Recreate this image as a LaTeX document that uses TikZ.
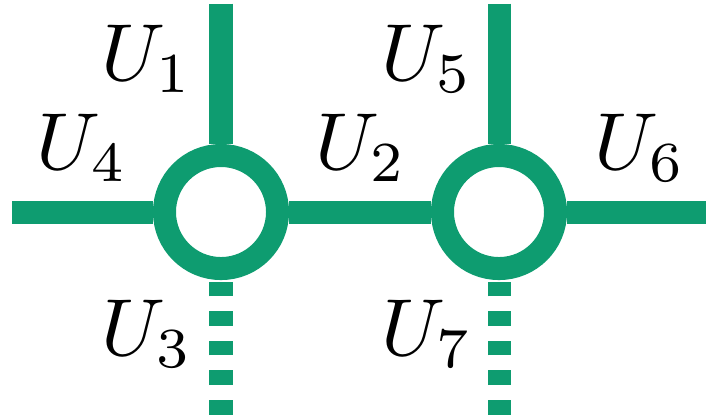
\documentclass[tikz,border=0pt]{standalone}
\usepackage{tikz}
\definecolor{netgreen}{RGB}{14,156,112}

\begin{document}
\begin{tikzpicture}[
	x=0.01cm, y=-0.01cm,
	line cap=butt,
	leg/.style={draw=netgreen, line width=0.23cm},
	openleg/.style={leg, dash pattern=on 0.145cm off 0.15cm},
	site/.style={circle, draw=netgreen, line width=0.23cm, minimum size=1.13cm, inner sep=0pt},
	lbl/.style={scale=2.3, inner sep=0pt, anchor=center}
	]
	\useasboundingbox (0,0) rectangle (706,417);
	
	\node[site] (s1) at (221,212) {};
	\node[site] (s2) at (499,212) {};
	
	\coordinate (top1) at (221,3.5);
	\coordinate (top2) at (499,3.5);
	\coordinate (left1) at (12,212);
	\coordinate (right2) at (706,212);
	\coordinate (bot1) at (221,414.5);
	\coordinate (bot2) at (499,414.5);
	
	\draw[leg] (top1) -- (s1);
	\draw[leg] (left1) -- (s1);
	\draw[leg] (s1) -- (s2);
	\draw[leg] (top2) -- (s2);
	\draw[leg] (s2) -- (right2);
	\draw[openleg] (bot1) -- (s1);
	\draw[openleg] (bot2) -- (s2);
	
	\node[lbl] (u1) at (147.5,58.5) {$U_1$};
	\node[lbl] (u4) at (82,147.5) {$U_4$};
	\node[lbl] (u2) at (361.5,147.5) {$U_2$};
	\node[lbl] (u3) at (147.5,334) {$U_3$};
	\node[lbl] (u5) at (427.5,58.5) {$U_5$};
	\node[lbl] (u6) at (640.5,147.5) {$U_6$};
	\node[lbl] (u7) at (427.5,334) {$U_7$};
\end{tikzpicture}
\end{document}
